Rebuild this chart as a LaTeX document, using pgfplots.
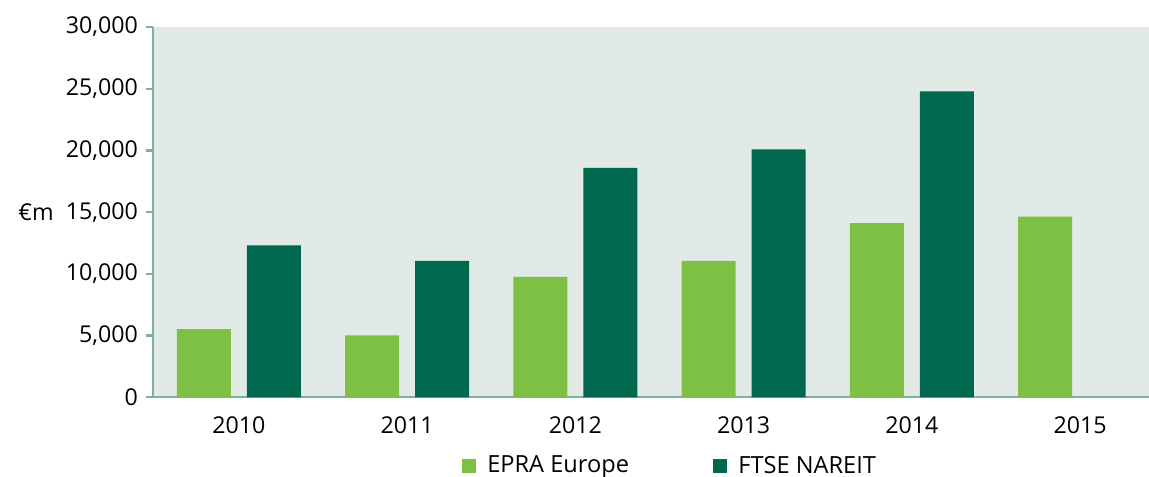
\documentclass[border=0pt]{standalone}
\usepackage{pgfplots}
\pgfplotsset{compat=1.18}
\usepackage{fontspec}
\setmainfont{Open Sans}
\definecolor{lgreen}{RGB}{125,192,67}
\definecolor{dgreen}{RGB}{0,104,78}
\definecolor{bgc}{RGB}{225,234,231}
\definecolor{axc}{RGB}{127,176,158}
\begin{document}
\begin{tikzpicture}
\useasboundingbox (-76.5bp,-39.85bp) rectangle (498bp,198.65bp);
\begin{axis}[
  at={(0,0)}, anchor=south west,
  scale only axis,
  width=498bp, height=185.15bp,
  xmin=-0.511, xmax=5.41,
  ymin=0, ymax=30000,
  ytick={0,5000,...,30000},
  scaled y ticks=false,
  xtick={0,1,2,3,4,5},
  xticklabels={2010,2011,2012,2013,2014,2015},
  axis x line*=bottom, axis y line*=left,
  axis line style={draw=axc, line width=1.1bp, -},
  tick align=outside,
  major tick length=3.5bp,
  ytick style={draw=axc, line width=1.1bp},
  xtick style={draw=none},
  axis background/.style={fill=bgc},
  /pgf/number format/assume math mode=true,
  /pgf/number format/.cd, 1000 sep={,}, /pgfplots/.cd,
  yticklabel style={font=\fontsize{11.6bp}{13bp}\selectfont, xshift=-0.5bp},
  xticklabel style={font=\fontsize{11.6bp}{13bp}\selectfont, yshift=-2.5bp},
  ylabel={€m},
  every axis y label/.style={at={(rel axis cs:0,0.5)}, anchor=center, xshift=-58.5bp, font=\fontsize{11.6bp}{13bp}\selectfont},
  ybar, bar width=27bp,
  legend columns=2,
  legend style={at={(rel axis cs:0.52,-0.1855)}, anchor=center, draw=none, fill=none,
    font=\fontsize{11.8bp}{13bp}\selectfont,
    /tikz/every odd column/.append style={column sep=3.5bp},
    /tikz/every even column/.append style={column sep=40bp}},
  legend image code/.code={\fill[#1] (0bp,-3.6bp) rectangle (7.2bp,3.6bp);},
]
\addplot[fill=lgreen, draw=none, bar shift=-17.5bp] coordinates {(0,5530) (1,5020) (2,9750) (3,11050) (4,14120) (5,14630)};
\addlegendentry{EPRA Europe}
\addplot[fill=dgreen, draw=none, bar shift=17.5bp] coordinates {(0,12310) (1,11050) (2,18580) (3,20090) (4,24790)};
\addlegendentry{FTSE NAREIT}
\end{axis}
\end{tikzpicture}
\end{document}
